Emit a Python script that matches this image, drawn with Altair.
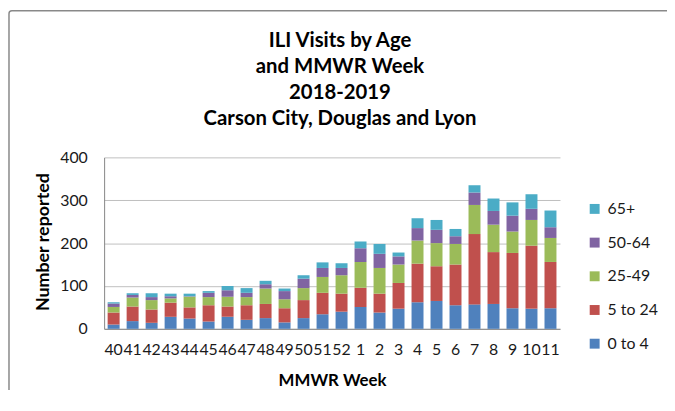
import altair as alt
import pandas as pd

weeks = ["40", "41", "42", "43", "44", "45", "46", "47", "48", "49", "50", "51", "52",
         "1", "2", "3", "4", "5", "6", "7", "8", "9", "10", "11"]
age_groups = ["0 to 4", "5 to 24", "25-49", "50-64", "65+"]

age_0_4 = [10, 18, 14, 28, 24, 17, 28, 21, 25, 15, 25, 34, 40, 51, 38, 47, 62, 65, 55, 57, 58, 48, 47, 48]
age_5_24 = [28, 34, 31, 33, 26, 38, 24, 34, 33, 33, 42, 50, 42, 45, 44, 60, 90, 81, 95, 164, 121, 129, 147, 108]
age_25_49 = [13, 21, 22, 10, 25, 19, 23, 19, 36, 21, 28, 37, 43, 60, 60, 43, 54, 54, 48, 68, 64, 50, 60, 56]
age_50_64 = [8, 6, 7, 5, 1, 10, 15, 10, 10, 19, 22, 21, 17, 32, 33, 19, 29, 31, 18, 29, 32, 37, 26, 25]
age_65p = [3, 4, 9, 6, 6, 4, 10, 11, 8, 6, 8, 13, 11, 16, 23, 9, 23, 23, 17, 17, 29, 31, 34, 39]

series = [age_0_4, age_5_24, age_25_49, age_50_64, age_65p]
legend_order = ["65+", "50-64", "25-49", "5 to 24", "0 to 4"]
colors = ["#4BACC6", "#8064A2", "#9BBB59", "#C0504D", "#4F81BD"]

rows = []
for gi, (g, vals) in enumerate(zip(age_groups, series)):
    for w, v in zip(weeks, vals):
        rows.append({"week": w, "group": g, "value": v, "idx": gi})
df = pd.DataFrame(rows)

FONT = "Lato"

bars = alt.Chart(df).mark_bar().encode(
    x=alt.X("week:N", sort=weeks,
            scale=alt.Scale(paddingInner=0.37, paddingOuter=0.185),
            axis=alt.Axis(title="MMWR Week", labelAngle=0, ticks=False, labelOverlap=False,
                          labelPadding=13, labelFontSize=16, labelColor="#1a1a1a",
                          domainColor="#868686", titleFontSize=17, titleFontWeight="bold",
                          titleX=230, titleY=57, titleBaseline="alphabetic", titleColor="#000000")),
    y=alt.Y("value:Q", stack="zero", scale=alt.Scale(domain=[0, 400]),
            axis=alt.Axis(title="Number reported", values=[0, 100, 200, 300, 400], ticks=False,
                          labelPadding=17, labelFontSize=16, labelColor="#1a1a1a",
                          domainColor="#868686", gridColor="#BFBFBF",
                          titleFontSize=18, titleFontWeight="bold", titleColor="#000000",
                          titleX=-61, titleY=85, titleAngle=270, titleAlign="center",
                          titleBaseline="middle")),
    color=alt.Color("group:N", scale=alt.Scale(domain=legend_order, range=colors),
                    legend=alt.Legend(title=None, orient="none", legendX=487, legendY=44,
                                      symbolType="square", symbolSize=100, symbolStrokeWidth=0,
                                      labelFontSize=16, labelColor="#1a1a1a", labelOffset=5,
                                      rowPadding=18)),
    order=alt.Order("idx:Q", sort="ascending"),
)

frame_df = pd.DataFrame({"k": [0]})
frame = alt.Chart(frame_df).mark_rect(fill=None, stroke="#898989", strokeWidth=1.5,
                                      cornerRadius=3, clip=False).encode(
    x=alt.value(-96), x2=alt.value(600), y=alt.value(-148), y2=alt.value(300))

chart = alt.layer(frame, bars).properties(
    width=460, height=173,
    title=alt.TitleParams(text=["ILI Visits by Age", "and MMWR Week", "2018-2019",
                                "Carson City, Douglas and Lyon"],
                          fontSize=20.5, fontWeight="bold", lineHeight=26.5, anchor="middle",
                          offset=-121, dx=8, color="#000000", font=FONT),
    autosize=alt.AutoSizeParams(type="none"),
    padding={"left": 97, "top": 149, "right": 108, "bottom": 60},
).configure(font=FONT).configure_view(stroke=None).configure_axis(labelFont=FONT, titleFont=FONT)

chart.save("out.html", embed_options={"renderer": "svg", "actions": False})
